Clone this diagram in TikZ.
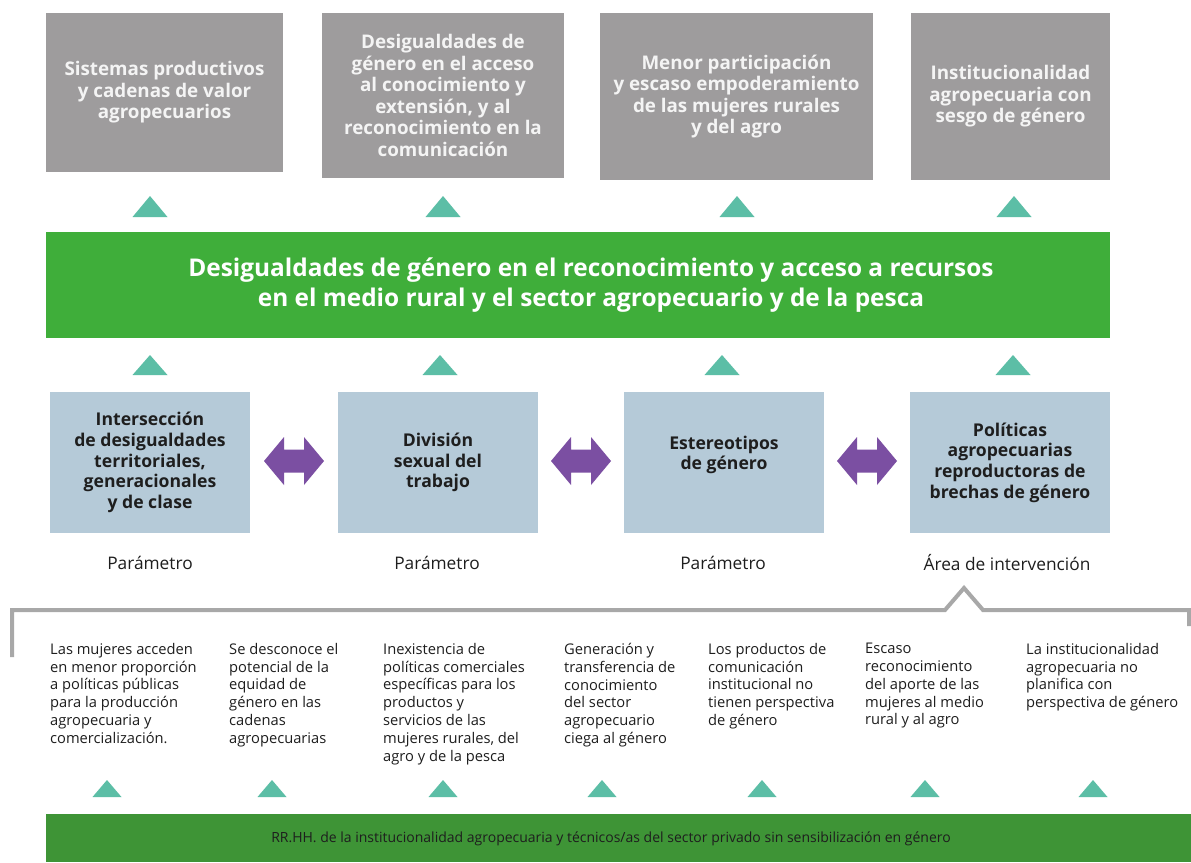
\documentclass[tikz,border=0pt]{standalone}
\usepackage{fontspec}
\setmainfont{Open Sans}
\usetikzlibrary{positioning}
\definecolor{boxgray}{HTML}{9E9C9D}
\definecolor{boxtext}{HTML}{F4F4F4}
\definecolor{teal}{HTML}{5CBEA6}
\definecolor{bandgreen}{HTML}{3FAE3A}
\definecolor{darkgreen}{HTML}{3E9436}
\definecolor{paleblue}{HTML}{B5CAD8}
\definecolor{arrowpurple}{HTML}{7B4FA2}
\definecolor{linegray}{HTML}{A8A8A8}
\definecolor{textdark}{HTML}{1E1E1E}
\tikzset{
  graybox/.style={fill=boxgray, text=boxtext, align=center, inner sep=0pt,
    font=\fontsize{18.8}{21.5}\selectfont\bfseries},
  bluetext/.style={text=textdark, align=center, inner sep=0pt,
    font=\fontsize{17.6}{20.6}\selectfont\bfseries},
  bluebox/.style={fill=paleblue, bluetext,
    minimum width=200pt, minimum height=141pt},
  bigtri/.style={fill=teal},
  smalltri/.style={fill=teal},
  dblarrow/.style={fill=arrowpurple},
  paramlabel/.style={text=textdark, font=\fontsize{17.3}{20}\selectfont, inner sep=0pt},
  coltext/.style={text=textdark, align=left, anchor=north west, inner sep=0pt,
    font=\fontsize{14.7}{17.8}\selectfont},
  bracket/.style={draw=linegray, line width=4pt, line join=miter}
}
\begin{document}
\begin{tikzpicture}[x=1pt,y=-1pt]
\useasboundingbox (0,0) rectangle (1191,862);
\fill[white] (0,0) rectangle (1191,862);

% top gray boxes
\node[graybox, minimum width=237pt, minimum height=159pt] (g1) at (164.5,92.5)
  {Sistemas productivos\\y cadenas de valor\\agropecuarios};
\node[graybox, minimum width=242pt, minimum height=165pt] (g2) at (443,95.5)
  {Desigualdades de\\género en el acceso\\al conocimiento y\\extensión, y al\\reconocimiento en la\\comunicación};
\node[graybox, minimum width=273pt, minimum height=167pt] (g3) at (736.5,96.5)
  {Menor participación\\y escaso empoderamiento\\de las mujeres rurales\\y del agro};
\node[graybox, minimum width=199pt, minimum height=167pt] (g4) at (1010.5,96.5)
  {Institucionalidad\\agropecuaria con\\sesgo de género};

% top triangles
\foreach \cx in {150,443,737,1014}{
  \fill[bigtri] (\cx-17.5,217) -- (\cx+17.5,217) -- (\cx,196) -- cycle;
}

% main green band
\node[fill=bandgreen, minimum width=1064pt, minimum height=106pt, inner sep=0pt] (band) at (578,285) {};
\node[text=white, align=center, inner sep=0pt, font=\fontsize{24.4}{30}\selectfont\bfseries] (bandtext) at (591,285)
  {Desigualdades de género en el reconocimiento y acceso a recursos\\en el medio rural y el sector agropecuario y de la pesca};

% middle triangles
\foreach \cx in {150,440,722,1013}{
  \fill[bigtri] (\cx-17.5,375) -- (\cx+17.5,375) -- (\cx,355) -- cycle;
}

% blue boxes
\node[bluebox] (b1) at (150,462.5)
  {Intersección\\de desigualdades\\territoriales,\\generacionales\\y de clase};
\node[bluebox] (b2) at (438,462.5) {División\\sexual del\\trabajo};
\node[bluebox] (b3) at (724,462.5) {};
\node[bluetext] (b3t) at (724,455) {Estereotipos\\de género};
\node[bluebox] (b4) at (1010,462.5)
  {Políticas\\agropecuarias\\reproductoras de\\brechas de género};

% purple double arrows
\foreach \cx in {294,581,867}{
  \fill[dblarrow] (\cx-30,461) -- (\cx-10,437) -- (\cx-10,449.5) -- (\cx+10,449.5)
    -- (\cx+10,437) -- (\cx+30,461) -- (\cx+10,485) -- (\cx+10,472.5)
    -- (\cx-10,472.5) -- (\cx-10,485) -- cycle;
}

% labels
\node[paramlabel] (p1) at (150,563) {Parámetro};
\node[paramlabel] (p2) at (437,563) {Parámetro};
\node[paramlabel] (p3) at (723,563) {Parámetro};
\node[paramlabel] (p4) at (1007,563) {Área de intervención};

% bracket
\draw[bracket] (12,657) -- (12,610) -- (945,610) -- (964,588) -- (983,610) -- (1189,610) -- (1189,626);

% columns
\node[coltext] (c1) at (50,643) {Las mujeres acceden\\en menor proporción\\a políticas públicas\\para la producción\\agropecuaria y\\comercialización.};
\node[coltext] (c2) at (229,643) {Se desconoce el\\potencial de la\\equidad de\\género en las\\cadenas\\agropecuarias};
\node[coltext] (c3) at (383,643) {Inexistencia de\\políticas comerciales\\específicas para los\\productos y\\servicios de las\\mujeres rurales, del\\agro y de la pesca};
\node[coltext] (c4) at (564,643) {Generación y\\transferencia de\\conocimiento\\del sector\\agropecuario\\ciega al género};
\node[coltext] (c5) at (708,643) {Los productos de\\comunicación\\institucional no\\tienen perspectiva\\de género};
\node[coltext] (c6) at (865,643) {Escaso\\reconocimiento\\del aporte de las\\mujeres al medio\\rural y al agro};
\node[coltext] (c7) at (1026,643) {La institucionalidad\\agropecuaria no\\planifica con\\perspectiva de género};

% bottom triangles
\foreach \cx in {107,272,443,602,762,925,1093}{
  \fill[smalltri] (\cx-14.5,797) -- (\cx+14.5,797) -- (\cx,780) -- cycle;
}

% bottom band
\fill[darkgreen] (46,814) rectangle (1191,862);
\node[text=textdark, inner sep=0pt, font=\fontsize{14}{16}\selectfont] (bottomtext) at (611,839)
  {RR.HH. de la institucionalidad agropecuaria y técnicos/as del sector privado sin sensibilización en género};
\end{tikzpicture}
\end{document}
